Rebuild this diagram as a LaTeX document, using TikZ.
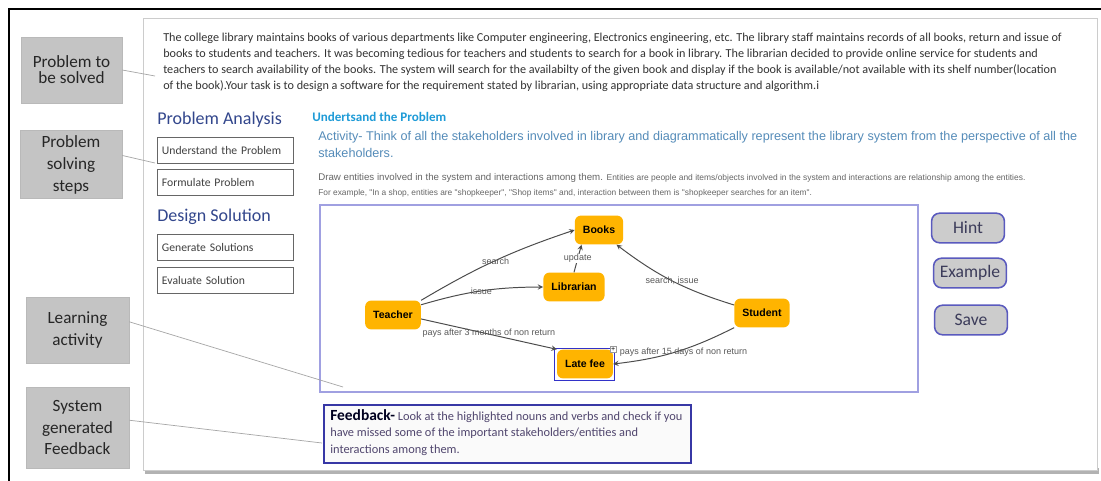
\documentclass[tikz,border=0pt]{standalone}
\usepackage{fontspec}
\setmainfont{Carlito}
\newfontfamily\arialfont{Liberation Sans}
\usetikzlibrary{positioning}

\definecolor{calloutgray}{RGB}{196,196,196}
\definecolor{headblue}{RGB}{50,70,140}
\definecolor{titleblue}{RGB}{30,155,215}
\definecolor{actblue}{RGB}{85,140,185}
\definecolor{entityorange}{RGB}{255,180,0}
\definecolor{boxpurple}{RGB}{160,160,225}
\definecolor{btnblue}{RGB}{90,90,190}
\definecolor{btntext}{RGB}{60,60,90}
\definecolor{fbblue}{RGB}{55,55,165}
\definecolor{fbtext}{RGB}{80,70,110}
\definecolor{selblue}{RGB}{50,50,200}

\begin{document}
\begin{tikzpicture}[x=0.025cm,y=-0.025cm,>=stealth,
  callout/.style={draw=gray!55,fill=calloutgray,align=center,text=black!85,
    font=\fontsize{12.2}{15.6}\selectfont},
  stepbox/.style={draw=black!60,text width=3.15cm,inner xsep=0.125cm,minimum height=0.66cm,
    align=left,text=black!75,font=\fontsize{8.3}{10}\selectfont},
  entity/.style={fill=entityorange,rounded corners=0.15cm,minimum height=0.72cm,minimum width=1.2cm,
    inner xsep=0.2cm,font=\arialfont\bfseries\fontsize{7.5}{9}\selectfont},
  rel/.style={->,draw=black!70,line width=0.7pt},
  lbl/.style={font=\arialfont\fontsize{6.4}{7}\selectfont,text=black!65,inner sep=0.5pt},
  btn/.style={draw=btnblue,line width=1.1pt,fill=black!20,rounded corners=0.2cm,minimum width=1.82cm,
    minimum height=0.74cm,text=btntext,font=\fontsize{12.5}{14}\selectfont},
  pointer/.style={draw=black!35,line width=0.5pt}]
\useasboundingbox (0,0) rectangle (1101,481);
\fill[white] (0,0) rectangle (1101,481);
\draw[line width=1.4pt] (9,481) -- (9,9) -- (1101,9);
\fill[black!30] (145,468) rectangle (1099,474);
\draw[draw=black!20,fill=white] (143,18) rectangle (1097,470);

\node[anchor=north west,align=left,inner sep=0,text=black!80,font=\fontsize{8.65}{11.34}\selectfont] (problem) at (163,33)
  {The college library maintains books of various departments like Computer engineering, Electronics engineering, etc. The library staff maintains records of all books, return and issue of\\
   books to students and teachers. It was becoming tedious for teachers and students to search for a book in library. The librarian decided to provide online service for students and\\
   teachers to search availability of the books. The system will search for the availabilty of the given book and display if the book is available/not available with its shelf number(location\\
   of the book).Your task is to design a software for the requirement stated by librarian, using appropriate data structure and algorithm.i};

\node[anchor=west,inner sep=0,text=headblue,font=\fontsize{12.8}{14}\selectfont] (analysis) at (157,120) {Problem Analysis};
\node[stepbox] (understand) at (225,150.5) {Understand the Problem};
\node[stepbox] (formulate) at (225,182.5) {Formulate Problem};
\node[anchor=west,inner sep=0,text=headblue,font=\fontsize{12.8}{14}\selectfont] (design) at (157,217) {Design Solution};
\node[stepbox] (generate) at (225,247.5) {Generate Solutions};
\node[stepbox] (evaluate) at (225,280.5) {Evaluate Solution};

\node[anchor=west,inner sep=0,text=titleblue,font=\bfseries\fontsize{9.3}{11}\selectfont] (title) at (312,117) {Undertsand the Problem};
\node[anchor=north west,align=left,inner sep=0,text=actblue,font=\arialfont\fontsize{9}{12}\selectfont] (activity) at (318,131)
  {Activity- Think of all the stakeholders involved in library and diagrammatically represent the library system from the perspective of all the\\
   stakeholders.};
\node[anchor=west,inner sep=0,text=black!60,font=\arialfont\fontsize{6.9}{8}\selectfont] (hint1) at (318,178)
  {Draw entities involved in the system and interactions among them. {\fontsize{6}{7}\selectfont Entities are people and items/objects involved in the system and interactions are relationship among the entities.}};
\node[anchor=west,inner sep=0,text=black!60,font=\arialfont\fontsize{5.95}{7}\selectfont] (hint2) at (318,193)
  {For example, "In a shop, entities are "shopkeeper", "Shop items" and, interaction between them is "shopkeeper searches for an item".};

\draw[boxpurple,line width=0.8pt] (320,205) rectangle (918,392);

\node[entity] (books) at (599,230) {Books};
\node[entity] (librarian) at (574,287) {Librarian};
\node[entity] (teacher) at (393,315) {Teacher};
\node[entity] (student) at (762,313) {Student};
\node[entity] (latefee) at (585,364) {Late fee};
\draw[selblue,line width=0.9pt] ([shift={(-2,-1)}]latefee.north west) rectangle ([shift={(1,2)}]latefee.south east);

\draw[rel] (teacher.north east) to[bend left=6] node[lbl,midway,above=-4pt] {search} (books.west);
\draw[rel] (teacher.20) to[bend left=8] node[lbl,midway] {issue} (librarian.west);
\draw[rel] (librarian.north) -- node[lbl,midway,fill=white] {update} (books.220);
\draw[rel] (teacher.-8) -- node[lbl,midway,above=-3pt] {pays after 3 months of non return} (latefee.north west);
\draw[rel] (student.164) to[bend left=10] node[lbl,midway] {search, issue} (books.-40);
\draw[rel] (student.south west) to[bend left=10] node[lbl,midway,xshift=0.2cm] {pays after 15 days of non return} (latefee.east);
\node[draw=black!40,fill=white,inner sep=0.6pt,font=\arialfont\fontsize{5}{5}\selectfont] (plus) at (latefee.north east) {+};

\node[btn] (hint) at (968,228) {Hint};
\node[btn] (example) at (970,273) {Example};
\node[btn] (save) at (971,320) {Save};

\node[draw=fbblue,line width=1.2pt,fill=black!2,anchor=north west,minimum width=9.175cm,minimum height=1.45cm] (feedback) at (323,404) {};
\node[anchor=north west,align=left,inner sep=0,text=fbtext,font=\fontsize{8.8}{11.7}\selectfont] (fbtext) at (330,409)
  {{\bfseries\fontsize{11}{11}\selectfont\color{black!70!blue!40!black}Feedback-} Look at the highlighted nouns and verbs and check if you\\
   have missed some of the important stakeholders/entities and\\
   interactions among them.};

\node[callout,minimum width=2.525cm,minimum height=1.65cm,font=\fontsize{12.2}{11.3}\selectfont] (tosolve) at (71.5,70) {Problem to\\be solved};
\node[callout,minimum width=2.55cm,minimum height=1.675cm] (steps) at (71,164.5) {Problem\\solving\\steps};
\node[callout,minimum width=2.575cm,minimum height=1.65cm] (learning) at (77.5,330) {Learning\\activity};
\node[callout,minimum width=2.575cm,minimum height=2.025cm] (sysfb) at (77.5,427.5) {System\\generated\\Feedback};

\coordinate (tosolvetip) at (155,76);
\coordinate (stepstip) at (155,163);
\coordinate (learningtip) at (343,387);
\coordinate (sysfbtip) at (322,443);
\draw[pointer] (tosolve.east) -- (tosolvetip);
\draw[pointer] (steps.10) -- (stepstip);
\draw[pointer] (learning.9) -- (learningtip);
\draw[pointer] (sysfb.8) -- (sysfbtip);
\end{tikzpicture}
\end{document}
